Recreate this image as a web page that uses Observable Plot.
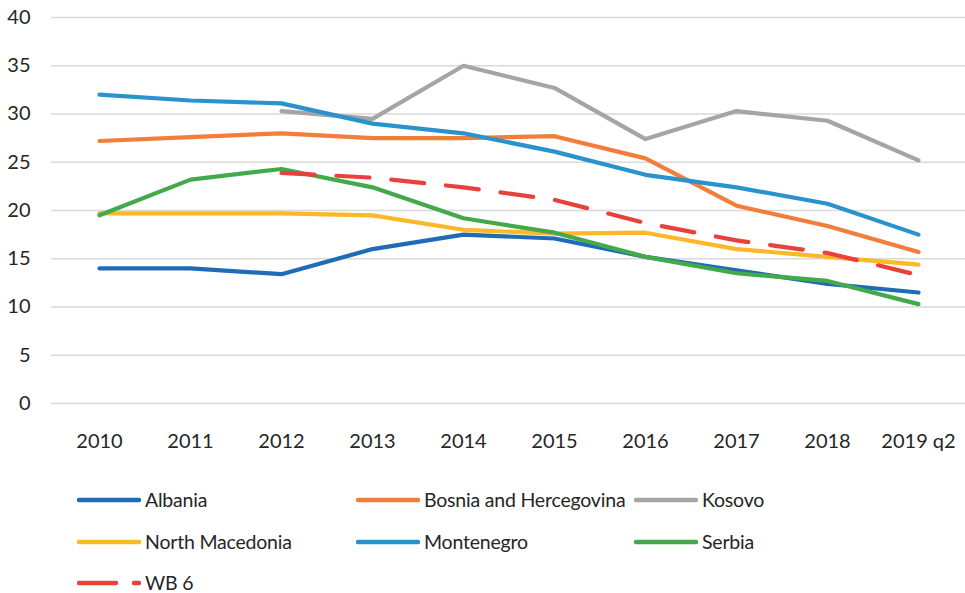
<!DOCTYPE html>
<html>
<head>
<meta charset="utf-8">
<script src="https://cdn.jsdelivr.net/npm/d3@7"></script>
<script src="https://cdn.jsdelivr.net/npm/@observablehq/plot@0.6"></script>
<style>
  html, body { margin: 0; padding: 0; background: #fff; }
  body { width: 965px; height: 593px; font-family: Lato, "Open Sans", sans-serif; color: #262626; }
  #legend { display: grid; grid-template-columns: 279px 278px 260px; grid-template-rows: 42px 42px 30px; padding-left: 77px; padding-top: 9px; }
  .item { height: 42px; display: flex; align-items: center; font-size: 19.5px; line-height: 20px; white-space: nowrap; letter-spacing: -0.2px; }
  .item.last { height: 20px; margin-top: 10px; }
  .sw { width: 64px; height: 14px; margin-right: 4px; flex: none; }
</style>
</head>
<body>
<div id="chart"></div>
<div id="legend"></div>
<script>
const years = ["2010","2011","2012","2013","2014","2015","2016","2017","2018","2019 q2"];
const seriesNames = ["Albania","Bosnia and Hercegovina","Kosovo","North Macedonia","Montenegro","Serbia","WB 6"];
const albania    = [14.0, 14.0, 13.4, 16.0, 17.5, 17.1, 15.2, 13.8, 12.4, 11.5];
const bosnia     = [27.2, 27.6, 28.0, 27.5, 27.5, 27.7, 25.4, 20.5, 18.4, 15.7];
const kosovo     = [null, null, 30.3, 29.5, 35.0, 32.7, 27.4, 30.3, 29.3, 25.2];
const macedonia  = [19.7, 19.7, 19.7, 19.5, 18.0, 17.6, 17.7, 16.0, 15.2, 14.4];
const montenegro = [32.0, 31.4, 31.1, 29.0, 28.0, 26.1, 23.7, 22.4, 20.7, 17.5];
const serbia     = [19.5, 23.2, 24.3, 22.4, 19.2, 17.7, 15.2, 13.5, 12.7, 10.3];
const wb6        = [null, null, 23.9, 23.4, 22.4, 21.1, 18.7, 16.9, 15.6, 13.3];
const yTicks = [0, 5, 10, 15, 20, 25, 30, 35, 40];

const colors = ["#1f6cb6", "#f37d3b", "#a5a5a5", "#fdb828", "#2a93cd", "#44a94a", "#e8413b"];
const values = [albania, bosnia, kosovo, macedonia, montenegro, serbia, wb6];

const data = [];
values.forEach((arr, si) => arr.forEach((v, i) => {
  if (v != null) data.push({series: seriesNames[si], year: years[i], value: v});
}));

const lineMarks = seriesNames.map((name, si) => Plot.line(
  data.filter(d => d.series === name),
  {
    x: "year", y: "value",
    stroke: colors[si], strokeWidth: 4.2,
    strokeLinecap: "round", strokeLinejoin: "round",
    strokeDasharray: name === "WB 6" ? "33,22" : null
  }
));

const chart = Plot.plot({
  width: 965,
  height: 470,
  marginLeft: 51,
  marginRight: 0,
  marginTop: 17,
  marginBottom: 67,
  style: { fontFamily: "Lato, 'Open Sans', sans-serif", fontSize: "20px", color: "#262626", background: "#fff" },
  x: { type: "point", domain: years, padding: 0.5, label: null },
  y: { domain: [0, 40], label: null },
  marks: [
    Plot.gridY(yTicks, { stroke: "#d9d9d9", strokeOpacity: 1, strokeWidth: 1.6 }),
    Plot.axisY(yTicks, { tickSize: 0, tickPadding: 21, label: null, fontSize: 20, fill: "#262626" }),
    Plot.axisX({ tickSize: 0, tickPadding: 30, label: null, fontSize: 20, fill: "#262626" }),
    ...lineMarks
  ]
});
document.getElementById("chart").appendChild(chart);

const legend = document.getElementById("legend");
seriesNames.forEach((name, si) => {
  const item = document.createElement("div");
  item.className = si === seriesNames.length - 1 ? "item last" : "item";
  const svgNS = "http://www.w3.org/2000/svg";
  const sw = document.createElementNS(svgNS, "svg");
  sw.setAttribute("class", "sw");
  sw.setAttribute("width", 64); sw.setAttribute("height", 14);
  const ln = document.createElementNS(svgNS, "line");
  ln.setAttribute("x1", 2); ln.setAttribute("x2", 62);
  ln.setAttribute("y1", 7); ln.setAttribute("y2", 7);
  ln.setAttribute("stroke", colors[si]);
  ln.setAttribute("stroke-width", 4.5);
  ln.setAttribute("stroke-linecap", "round");
  if (name === "WB 6") ln.setAttribute("stroke-dasharray", "37,18");
  sw.appendChild(ln);
  item.appendChild(sw);
  const t = document.createElement("span");
  t.textContent = name;
  item.appendChild(t);
  legend.appendChild(item);
});
</script>
</body>
</html>
